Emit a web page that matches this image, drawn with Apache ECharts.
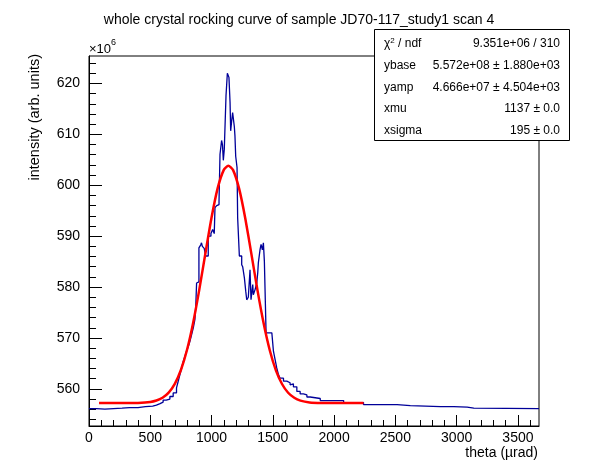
<!DOCTYPE html>
<html>
<head>
<meta charset="utf-8">
<script src="https://cdn.jsdelivr.net/npm/echarts@6/dist/echarts.min.js"></script>
<style>
html,body{margin:0;padding:0;background:#fff;}
#c{width:598px;height:474px;}
</style>
</head>
<body>
<div id="c"></div>
<script>
// ---- data (intensity in units of 10^6) ----
var titleText = 'whole crystal rocking curve of sample JD70-117_study1 scan 4';
var xAxisTitle = 'theta (\u00b5rad)';
var yAxisTitle = 'intensity (arb. units)';

// histogram: bin left edges (theta, µrad) and contents
var histEdges = [0, 60, 130, 200, 270, 330, 400, 460, 520, 550, 580, 605, 630, 660, 687, 714, 728, 742, 756, 769,
  783, 796, 810, 823, 837, 851, 864, 871, 878, 890, 897, 905, 912, 918, 925, 940, 952, 973, 995, 1009,
  1022, 1028, 1042, 1055, 1061, 1069, 1082, 1089, 1096, 1104, 1118, 1129, 1142, 1151, 1156, 1164, 1172, 1186, 1191, 1197,
  1208, 1213, 1227, 1246, 1254, 1268, 1279, 1287, 1300, 1314, 1322, 1336, 1341, 1355, 1369, 1377, 1382, 1396, 1404, 1415,
  1423, 1431, 1445, 1492, 1505, 1519, 1532, 1546, 1559, 1587, 1614, 1641, 1655, 1668, 1696, 1723, 1750, 1778, 1805, 1887,
  2078, 2240, 2514, 2622, 2868, 2977, 3086, 3140, 3672];
var histValues = [556.1, 556.0, 556.1, 556.2, 556.3, 556.3, 556.5, 556.6, 556.8, 557.1, 557.4, 557.8, 558.0, 558.5, 559.2, 560.2, 561.5, 562.8, 564.1, 565.4,
  566.4, 567.4, 568.3, 569.3, 570.6, 572.0, 573.6, 576.2, 580.8, 581.0, 587.7, 588.0, 588.3, 588.7, 588.0, 587.6, 586.1, 590.0, 590.5, 591.3,
  590.5, 595.6, 596.0, 596.2, 596.9, 606.1, 608.8, 608.0, 604.9, 607.1, 617.6, 622.0, 621.2, 616.3, 610.7, 612.6, 614.3, 611.5, 609.7, 605.7,
  603.5, 593.6, 586.1, 584.4, 584.0, 581.8, 579.2, 577.5, 578.0, 583.4, 577.5, 580.5, 578.5, 579.5, 580.8, 582.8, 584.8, 587.4, 588.4, 587.3,
  588.7, 585.1, 571.0, 571.3, 567.4, 565.7, 564.1, 562.8, 562.1, 561.5, 561.2, 560.8, 561.0, 560.4, 559.5, 559.0, 558.8, 558.4, 558.1, 557.7,
  557.3, 556.9, 556.7, 556.5, 556.5, 556.4, 556.2, 556.1, 556.1];

// fitted curve
var fitTheta = [82, 200, 300, 400, 500, 550, 600, 650, 700, 750, 800, 850, 900, 950, 1000, 1050, 1100, 1137, 1175, 1225,
  1275, 1325, 1375, 1425, 1475, 1525, 1575, 1625, 1675, 1725, 1800, 1900, 2000, 2240];
var fitValue = [557.2, 557.2, 557.2, 557.24, 557.42, 557.70, 558.25, 559.26, 560.99, 563.71, 567.68, 573.00, 579.50, 586.65, 593.66, 599.44, 603.03, 603.86, 603.03, 599.34,
  593.53, 586.52, 579.35, 572.88, 567.59, 563.64, 560.95, 559.23, 558.24, 557.69, 557.34, 557.22, 557.2, 557.2];

// axis ticks
var xMajorTicks = [0, 500, 1000, 1500, 2000, 2500, 3000, 3500];
var xMinorTicks = [100, 200, 300, 400, 600, 700, 800, 900, 1100, 1200, 1300, 1400, 1600, 1700, 1800, 1900,
  2100, 2200, 2300, 2400, 2600, 2700, 2800, 2900, 3100, 3200, 3300, 3400, 3600];
var yMajorTicks = [560, 570, 580, 590, 600, 610, 620];
var yMinorTicks = [554, 556, 558, 562, 564, 566, 568, 572, 574, 576, 578, 582, 584, 586, 588,
  592, 594, 596, 598, 602, 604, 606, 608, 612, 614, 616, 618, 622, 624];

// stats box
var statLabels = ['\u03c7{sup|2} / ndf', 'ybase', 'yamp', 'xmu', 'xsigma'];
var statValues = ['9.351e+06 / 310', '5.572e+08 \u00b1 1.880e+03', '4.666e+07 \u00b1 4.504e+03', '1137 \u00b1 0.0', '195 \u00b1 0.0'];

var X_MIN = 0, X_MAX = 3672, Y_MIN = 552.7, Y_MAX = 625.4;
var FONT = '"Liberation Sans", Arial, Helvetica, sans-serif';

var histData = histEdges.map(function (e, i) { return [e, histValues[i]]; });
var fitData = fitTheta.map(function (t, i) { return [t, fitValue[i]]; });

var chart = echarts.init(document.getElementById('c'), null, {renderer: 'canvas'});

var G = {left: 89, right: 59, top: 56, bottom: 48};
var boxX = 374, boxY = 29, boxW = 195, boxH = 111;
var rowY = [44, 66, 87.5, 109, 130.5];

var graphics = [];
graphics.push({type: 'rect', shape: {x: boxX + 0.5, y: boxY + 0.5, width: boxW, height: boxH},
  style: {fill: '#fff', stroke: '#000', lineWidth: 1}, z: 100});
statLabels.forEach(function (s, i) {
  graphics.push({type: 'text', x: 384, y: rowY[i], z: 101,
    style: {text: s, font: '12px ' + FONT, fill: '#000', align: 'left', verticalAlign: 'middle',
      rich: {sup: {fontSize: 8, verticalAlign: 'top', padding: [0, 0, 6, 0], fontFamily: FONT}}}});
  graphics.push({type: 'text', x: 560, y: rowY[i], z: 101,
    style: {text: statValues[i], font: '12px ' + FONT, fill: '#000', align: 'right', verticalAlign: 'middle'}});
});
graphics.push({type: 'text', x: 89, y: 49, z: 50,
  style: {text: '\u00d710', font: '13px ' + FONT, fill: '#000', align: 'left', verticalAlign: 'middle'}});
graphics.push({type: 'text', x: 111, y: 43, z: 50,
  style: {text: '6', font: '9px ' + FONT, fill: '#000', align: 'left', verticalAlign: 'middle'}});
graphics.push({type: 'text', x: 538, y: 453, z: 50,
  style: {text: xAxisTitle, font: '14px ' + FONT, fill: '#000', align: 'right', verticalAlign: 'middle'}});
graphics.push({type: 'text', x: 35, y: 54, rotation: Math.PI / 2, z: 50,
  style: {text: yAxisTitle, font: '14.5px ' + FONT, fill: '#000', align: 'right', verticalAlign: 'middle'}});

var option = {
  animation: false,
  backgroundColor: '#fff',
  title: {text: titleText, left: 'center', top: 8,
    textStyle: {fontFamily: FONT, fontSize: 14, fontWeight: 'normal', color: '#000'}},
  grid: {left: G.left, right: G.right, top: G.top, bottom: G.bottom, show: true,
    borderColor: '#000', borderWidth: 1, backgroundColor: 'transparent', containLabel: false},
  xAxis: [
    {type: 'value', min: X_MIN, max: X_MAX, position: 'bottom',
      axisLine: {show: true, onZero: false, lineStyle: {color: '#000', width: 1}},
      axisTick: {show: true, inside: true, length: 11, lineStyle: {color: '#000'}, customValues: xMajorTicks},
      axisLabel: {show: true, margin: 5, color: '#000', fontFamily: FONT, fontSize: 14, customValues: xMajorTicks,
        formatter: function (v) { return String(v); }},
      splitLine: {show: false}},
    {type: 'value', min: X_MIN, max: X_MAX, position: 'bottom',
      axisLine: {show: false},
      axisTick: {show: true, inside: true, length: 6, lineStyle: {color: '#000'}, customValues: xMinorTicks},
      axisLabel: {show: false}, splitLine: {show: false}}
  ],
  yAxis: [
    {type: 'value', min: Y_MIN, max: Y_MAX, position: 'left',
      axisLine: {show: true, onZero: false, lineStyle: {color: '#000', width: 1}},
      axisTick: {show: true, inside: true, length: 13, lineStyle: {color: '#000'}, customValues: yMajorTicks},
      axisLabel: {show: true, margin: 9, color: '#000', fontFamily: FONT, fontSize: 14, customValues: yMajorTicks,
        formatter: function (v) { return String(v); }},
      splitLine: {show: false}},
    {type: 'value', min: Y_MIN, max: Y_MAX, position: 'left',
      axisLine: {show: false},
      axisTick: {show: true, inside: true, length: 7, lineStyle: {color: '#000'}, customValues: yMinorTicks},
      axisLabel: {show: false}, splitLine: {show: false}}
  ],
  series: [
    {type: 'line', name: 'data', xAxisIndex: 0, yAxisIndex: 0, data: histData, step: 'end',
      showSymbol: false, symbol: 'none', lineStyle: {color: '#000099', width: 1.3}, z: 3},
    {type: 'line', name: 'fit', xAxisIndex: 0, yAxisIndex: 0, data: fitData, smooth: 0.2,
      showSymbol: false, symbol: 'none', lineStyle: {color: '#ff0000', width: 2.5}, z: 4}
  ],
  graphic: graphics
};
chart.setOption(option);
</script>
</body>
</html>
